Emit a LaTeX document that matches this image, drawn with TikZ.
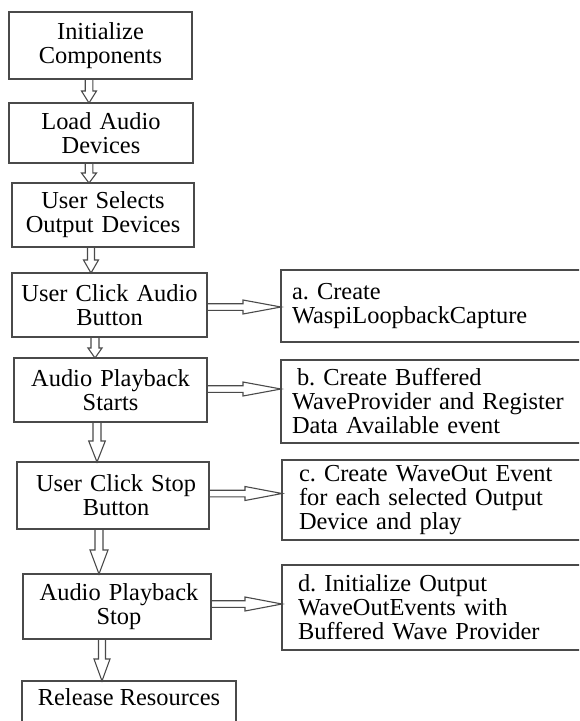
\documentclass[tikz,border=0pt]{standalone}
\usepackage{fontspec}
\setmainfont{Liberation Serif}
\usetikzlibrary{calc}
\frenchspacing
\definecolor{linegray}{HTML}{4A4A4A}
\tikzset{
  base/.style={draw=linegray, line width=1.2pt, inner sep=0pt, outer sep=0pt,
    anchor=north west, font=\fontsize{24.4pt}{24pt}\selectfont, text=black},
  box/.style={base, align=center},
  rbox/.style={base, align=left, inner xsep=11pt},
  arr/.style={draw=linegray, line width=1.1pt, line join=miter}
}
% vertical block arrow: from, to, x, shaft half, head half, head length
\newcommand{\varr}[6]{%
  \draw[arr] let \p1=(#1), \p2=(#2) in
    (#3pt-#4pt,\y1) -- (#3pt-#4pt,\y2+#6pt) -- (#3pt-#5pt,\y2+#6pt) -- (#3pt,\y2)
    -- (#3pt+#5pt,\y2+#6pt) -- (#3pt+#4pt,\y2+#6pt) -- (#3pt+#4pt,\y1);}
% horizontal block arrow: from, to, y offset, shaft half, head half, head length
\newcommand{\harr}[6]{%
  \draw[arr] let \p1=(#1), \p2=(#2) in
    (\x1,\y1+#3pt+#4pt) -- (\x2-#6pt,\y1+#3pt+#4pt) -- (\x2-#6pt,\y1+#3pt+#5pt) -- (\x2,\y1+#3pt)
    -- (\x2-#6pt,\y1+#3pt-#5pt) -- (\x2-#6pt,\y1+#3pt-#4pt) -- (\x1,\y1+#3pt-#4pt);}
\begin{document}
\begin{tikzpicture}[x=1pt,y=-1pt]
\useasboundingbox (0,0) rectangle (579,721);
\clip (0,0) rectangle (579,721);
% left column
\node[box, text width=183pt, minimum height=67pt] (b1) at (9,12) {Initialize\\Components};
\node[box, text width=184pt, minimum height=60pt] (b2) at (9,103) {Load Audio\\Devices};
\node[box, text width=182pt, minimum height=64pt] (b3) at (12,183) {User Selects\\Output Devices};
\node[box, text width=195pt, minimum height=64pt] (b4) at (12,273) {User Click Audio\\Button};
\node[box, text width=193pt, minimum height=64pt] (b5) at (14,358) {Audio Playback\\Starts};
\node[box, text width=192pt, minimum height=67pt] (b6) at (17,462) {\hspace*{6pt}User Click Stop\\\hspace*{6pt}Button};
\node[box, text width=188pt, minimum height=65pt] (b7) at (23,574) {\hspace*{4pt}Audio Playback\\\hspace*{4pt}Stop};
\node[base, minimum width=214pt, text height=24pt, text depth=40pt] (b8) at (22,681) {Release Resources};
% right column
\node[rbox, text width=330pt, minimum height=72pt] (ra) at (281,270) {a. Create\\WaspiLoopbackCapture};
\node[rbox, text width=330pt, minimum height=83pt] (rb) at (281,360) {\hspace*{5pt}b. Create Buffered\\WaveProvider and Register\\Data Available event};
\node[rbox, text width=330pt, minimum height=80pt, inner xsep=17pt] (rc) at (282,460) {c. Create WaveOut Event\\for each selected Output\\Device and play};
\node[rbox, text width=330pt, minimum height=85pt, inner xsep=16pt] (rd) at (282,565) {d. Initialize Output\\WaveOutEvents with\\Buffered Wave Provider};
% vertical arrows
\varr{b1.south}{b2.north}{89}{3.8}{7.5}{12}
\varr{b2.south}{b3.north}{89}{3.8}{7.5}{10}
\varr{b3.south}{b4.north}{91}{3.5}{7.5}{13}
\varr{b4.south}{b5.north}{95}{4}{7}{10}
\varr{b5.south}{b6.north}{97}{4}{8.3}{21}
\varr{b6.south}{b7.north}{99}{4}{9}{24}
\varr{b7.south}{b8.north}{102}{3.5}{8}{22}
% horizontal arrows
\harr{b4.east}{ra.west}{-2}{3.3}{7}{38}
\harr{b5.east}{rb.west}{1}{3.3}{7}{38}
\harr{b6.east}{rc.west}{2}{3.3}{7}{37}
\harr{b7.east}{rd.west}{2.5}{3.3}{7}{37}
\end{tikzpicture}
\end{document}
